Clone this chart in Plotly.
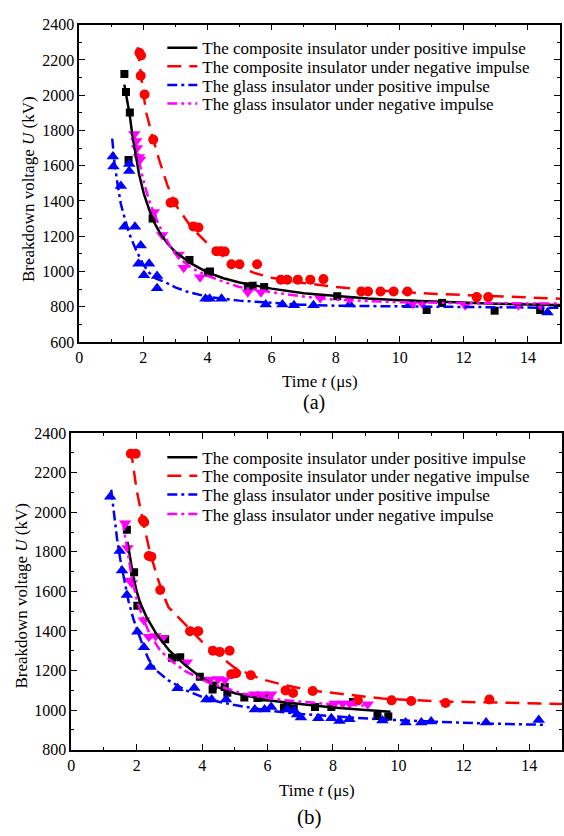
import plotly.graph_objects as go

# ---------------- Panel (a) data ----------------
a_cp_t = [1.41, 1.46, 1.58, 1.54, 2.29, 3.44, 4.02, 4.08, 5.26, 5.41, 5.77, 8.05, 10.34, 10.84, 11.32, 12.96, 14.38]
a_cp_u = [2120, 2018, 1902, 1633, 1300, 1065, 995, 1000, 915, 920, 912, 860, 818, 782, 822, 778, 782]
a_cp_fit_t = [1.41, 1.51, 1.58, 1.66, 1.77, 1.87, 2.02, 2.18, 2.29, 2.5, 2.75, 3.0, 3.5, 4.0, 4.5, 5.0, 6.0, 7.0, 8.0, 9.0, 10.0, 11.0, 12.0, 13.0, 14.0, 15.0]
a_cp_fit_u = [2060, 1957, 1883, 1772, 1643, 1550, 1439, 1346, 1295, 1225, 1160, 1110, 1045, 995, 962, 938, 903, 877, 860, 847, 837, 829, 822, 817, 813, 810]

a_cn_t = [1.88, 1.93, 1.92, 2.04, 2.31, 2.85, 2.95, 3.56, 3.72, 4.28, 4.42, 4.54, 4.75, 5.0, 5.55, 6.29, 6.49, 6.82, 7.21, 7.62, 8.8, 9.01, 9.4, 9.81, 10.24, 12.4, 12.76]
a_cn_u = [2240, 2225, 2110, 2004, 1748, 1390, 1393, 1256, 1250, 1115, 1115, 1113, 1041, 1041, 1041, 954, 954, 954, 954, 957, 887, 887, 887, 887, 887, 855, 855]
a_cn_fit_t = [1.82, 1.9, 2.0, 2.1, 2.2, 2.3, 2.5, 2.75, 3.0, 3.5, 4.0, 4.5, 5.0, 5.5, 6.0, 7.0, 8.0, 9.0, 10.0, 11.0, 12.0, 13.0, 14.0, 15.0]
a_cn_fit_u = [2272, 2150, 2010, 1895, 1820, 1755, 1630, 1490, 1380, 1250, 1160, 1085, 1025, 990, 965, 935, 912, 896, 884, 874, 866, 859, 852, 846]

a_gp_t = [1.05, 1.07, 1.30, 1.56, 1.56, 1.41, 1.74, 1.92, 1.85, 2.18, 2.02, 2.43, 2.43, 3.94, 4.07, 4.44, 5.82, 6.34, 6.7, 7.31, 8.44, 10.29, 14.61]
a_gp_u = [1652, 1596, 1485, 1610, 1570, 1254, 1254, 1148, 1044, 1044, 979, 975, 905, 846, 846, 846, 813, 813, 809, 809, 813, 809, 768]
a_gp_fit_t = [1.03, 1.1, 1.2, 1.3, 1.41, 1.55, 1.77, 2.0, 2.18, 2.4, 2.69, 3.0, 3.41, 4.03, 5.0, 6.0, 6.9, 8.0, 10.0, 12.0, 15.0]
a_gp_fit_u = [1754, 1620, 1490, 1383, 1309, 1220, 1124, 1040, 994, 960, 939, 910, 883, 856, 835, 822, 812, 806, 802, 798, 794]

a_gn_t = [1.72, 1.78, 1.80, 1.86, 1.90, 2.33, 2.59, 3.1, 3.26, 3.77, 5.26, 5.67, 7.52, 8.44, 10.4, 10.7, 12.04, 13.7, 14.4]
a_gn_u = [1780, 1740, 1700, 1650, 1635, 1337, 1207, 1096, 1022, 967, 883, 883, 850, 846, 818, 818, 809, 809, 809]
a_gn_fit_t = [1.71, 1.8, 1.9, 2.0, 2.15, 2.33, 2.6, 2.85, 3.1, 3.5, 4.0, 4.5, 5.0, 6.0, 7.0, 8.0, 9.0, 10.0, 12.0, 15.0]
a_gn_fit_u = [1790, 1690, 1600, 1520, 1420, 1330, 1220, 1140, 1078, 1020, 976, 942, 912, 883, 858, 840, 832, 826, 821, 818]

# ---------------- Panel (b) data ----------------
b_cp_t = [1.70, 1.92, 2.02, 2.87, 3.08, 3.33, 3.93, 4.34, 4.32, 4.69, 4.77, 5.29, 5.69, 5.89, 6.5, 6.6, 6.8, 7.45, 7.95, 8.61, 9.36, 9.69]
b_cp_u = [1912, 1697, 1528, 1358, 1264, 1267, 1168, 1124, 1104, 1116, 1087, 1063, 1061, 1063, 1013, 1016, 1008, 1016, 1016, 1041, 970, 967]
b_cp_fit_t = [1.72, 1.8, 1.9, 2.0, 2.1, 2.3, 2.6, 3.0, 3.5, 4.0, 4.5, 5.0, 5.5, 6.0, 7.0, 8.0, 9.0, 9.76]
b_cp_fit_u = [1850, 1760, 1670, 1600, 1545, 1470, 1385, 1300, 1225, 1160, 1115, 1085, 1066, 1050, 1030, 1013, 1000, 991]

b_cn_t = [1.82, 1.97, 2.19, 2.23, 2.37, 2.45, 2.72, 3.63, 3.88, 4.33, 4.54, 4.84, 4.89, 5.04, 5.49, 6.55, 6.78, 7.38, 8.76, 9.79, 10.39, 11.44, 12.78]
b_cn_u = [2296, 2296, 1960, 1950, 1779, 1775, 1607, 1399, 1399, 1300, 1294, 1300, 1181, 1186, 1176, 1099, 1086, 1096, 1049, 1049, 1046, 1036, 1053]
b_cn_fit_t = [1.82, 2.0, 2.2, 2.4, 2.62, 2.8, 2.97, 3.38, 3.68, 4.0, 4.49, 4.99, 5.79, 6.5, 7.3, 8.2, 9.51, 11.22, 13.0, 15.0]
b_cn_fit_u = [2320, 2110, 1950, 1800, 1677, 1590, 1520, 1450, 1396, 1345, 1280, 1214, 1157, 1127, 1100, 1082, 1058, 1044, 1037, 1031]

b_gp_t = [1.19, 1.48, 1.55, 1.70, 2.02, 2.22, 2.42, 3.25, 3.76, 4.13, 4.29, 4.73, 5.61, 5.91, 6.11, 6.6, 6.82, 6.9, 7.02, 7.55, 7.95, 8.2, 8.5, 9.51, 10.22, 10.7, 11.0, 12.68, 14.29]
b_gp_u = [2078, 1804, 1705, 1582, 1396, 1317, 1218, 1110, 1112, 1053, 1053, 1053, 1003, 1003, 1015, 1003, 996, 978, 962, 958, 958, 945, 954, 947, 937, 937, 942, 937, 950]
b_gp_fit_t = [1.22, 1.3, 1.4, 1.5, 1.62, 1.75, 1.9, 2.05, 2.2, 2.37, 2.6, 2.97, 3.5, 3.98, 4.5, 5.0, 6.0, 7.0, 8.0, 9.5, 11.0, 12.5, 14.54]
b_gp_fit_u = [2114, 1990, 1865, 1760, 1650, 1550, 1460, 1390, 1320, 1255, 1200, 1150, 1100, 1068, 1042, 1025, 998, 980, 968, 952, 942, 933, 925]

b_gn_t = [1.65, 1.72, 1.79, 1.85, 2.22, 2.37, 2.58, 2.78, 3.53, 4.23, 4.49, 4.69, 5.59, 5.84, 6.11, 8.05, 8.3, 8.51, 9.06]
b_gn_u = [1944, 1820, 1655, 1643, 1454, 1371, 1375, 1363, 1242, 1155, 1157, 1152, 1080, 1080, 1080, 1033, 1033, 1033, 1029]
b_gn_fit_t = [1.57, 1.65, 1.75, 1.85, 2.0, 2.2, 2.4, 2.68, 3.0, 3.5, 4.18, 5.0, 5.49, 6.5, 7.7, 9.06]
b_gn_fit_u = [1957, 1870, 1760, 1670, 1560, 1460, 1385, 1310, 1255, 1195, 1140, 1095, 1074, 1050, 1033, 1022]

names = ["The composite insulator under positive impulse",
         "The composite insulator under negative impulse",
         "The glass insulator under positive impulse",
         "The glass insulator under negative impulse"]

FONT = "Liberation Serif, Times New Roman, serif"
W, H = 564, 836


def px_x(p):
    return min(1.0, p / W)


def px_y(p):
    return max(0.0, 1 - p / H)


fig = go.Figure()

styles = [
    dict(color="#000000", dash="solid", symbol="square", msize=8),
    dict(color="#FF0000", dash="14px,8px", symbol="circle", msize=10),
    dict(color="#0000FF", dash="10px,4px,3px,4px", symbol="triangle-up", msize=11),
    dict(color="#FF00FF", dash="10px,4px,3px,4px,3px,4px", symbol="triangle-down", msize=11),
]
styles_b = [dict(s) for s in styles]
styles_b[3]["dash"] = "10px,4px,3px,4px"

legend_rows_a = [41, 60, 79, 98]
legend_rows_b = [459, 478, 497, 517]

panels = [
    ("x", "y", 1, legend_rows_a,
     [(a_cp_t, a_cp_u, a_cp_fit_t, a_cp_fit_u), (a_cn_t, a_cn_u, a_cn_fit_t, a_cn_fit_u),
      (a_gp_t, a_gp_u, a_gp_fit_t, a_gp_fit_u), (a_gn_t, a_gn_u, a_gn_fit_t, a_gn_fit_u)], styles),
    ("x2", "y2", 5, legend_rows_b,
     [(b_cp_t, b_cp_u, b_cp_fit_t, b_cp_fit_u), (b_cn_t, b_cn_u, b_cn_fit_t, b_cn_fit_u),
      (b_gp_t, b_gp_u, b_gp_fit_t, b_gp_fit_u), (b_gn_t, b_gn_u, b_gn_fit_t, b_gn_fit_u)], styles_b),
]

legend_layouts = {}
for xa, ya, lg0, rows, series, sty in panels:
    for (pt, pu, ft, fu), st in zip(series, sty):
        fig.add_trace(go.Scatter(x=pt, y=pu, mode="markers", xaxis=xa, yaxis=ya,
                                 marker=dict(symbol=st["symbol"], size=st["msize"], color=st["color"]),
                                 showlegend=False, hoverinfo="skip"))
    for i, ((pt, pu, ft, fu), st, nm) in enumerate(zip(series, sty, names)):
        lg = "legend" if lg0 + i == 1 else "legend%d" % (lg0 + i)
        fig.add_trace(go.Scatter(x=ft, y=fu, mode="lines", xaxis=xa, yaxis=ya, name=nm,
                                 line=dict(color=st["color"], width=2.5, dash=st["dash"]),
                                 legend=lg, showlegend=True))
        legend_layouts[lg] = dict(x=px_x(160), y=px_y(rows[i]), xanchor="left", yanchor="middle",
                                  bgcolor="rgba(0,0,0,0)", borderwidth=0,
                                  font=dict(family=FONT, size=17, color="black"),
                                  itemwidth=30)

axis_common = dict(showline=True, linecolor="black", linewidth=1.5, mirror="ticks",
                   ticks="inside", ticklen=6, tickwidth=1.2, tickcolor="black",
                   showgrid=False, zeroline=False,
                   tickfont=dict(family=FONT, size=16, color="black"))

fig.update_layout(
    width=W, height=H, autosize=False,
    margin=dict(l=0, r=0, t=0, b=0),
    paper_bgcolor="white", plot_bgcolor="white",
    font=dict(family=FONT, size=16, color="black"),
    xaxis=dict(domain=[px_x(76), px_x(562)], range=[0, 15], dtick=2, anchor="y",
               minor=dict(ticks="inside", dtick=1, ticklen=3, tickcolor="black"), **axis_common),
    yaxis=dict(domain=[px_y(341), px_y(17)], range=[600, 2400], dtick=200, anchor="x",
               minor=dict(ticks="inside", dtick=100, ticklen=3, tickcolor="black"), **axis_common),
    xaxis2=dict(domain=[px_x(68), px_x(564)], range=[0, 15], dtick=2, anchor="y2",
                minor=dict(ticks="inside", dtick=1, ticklen=3, tickcolor="black"), **axis_common),
    yaxis2=dict(domain=[px_y(757), px_y(434)], range=[800, 2400], dtick=200, anchor="x2",
                minor=dict(ticks="inside", dtick=100, ticklen=3, tickcolor="black"), **axis_common),
    **legend_layouts,
)

ann = [
    dict(text="Breakdown voltage <i>U</i> (kV)", x=px_x(25), y=px_y(185), textangle=-90, size=17),
    dict(text="Time <i>t</i> (μs)", x=px_x(319), y=px_y(381), textangle=0, size=17),
    dict(text="(a)", x=px_x(313), y=px_y(403), textangle=0, size=20),
    dict(text="Breakdown voltage <i>U</i> (kV)", x=px_x(18), y=px_y(600), textangle=-90, size=17),
    dict(text="Time <i>t</i> (μs)", x=px_x(316), y=px_y(799), textangle=0, size=17),
    dict(text="(b)", x=px_x(309), y=px_y(826), textangle=0, size=21),
]
for a in ann:
    fig.add_annotation(text=a["text"], x=a["x"], y=a["y"], xref="paper", yref="paper",
                       xanchor="center", yanchor="middle", showarrow=False,
                       textangle=a["textangle"],
                       font=dict(family=FONT, size=a["size"], color="black"))

fig.write_html("out.html")
